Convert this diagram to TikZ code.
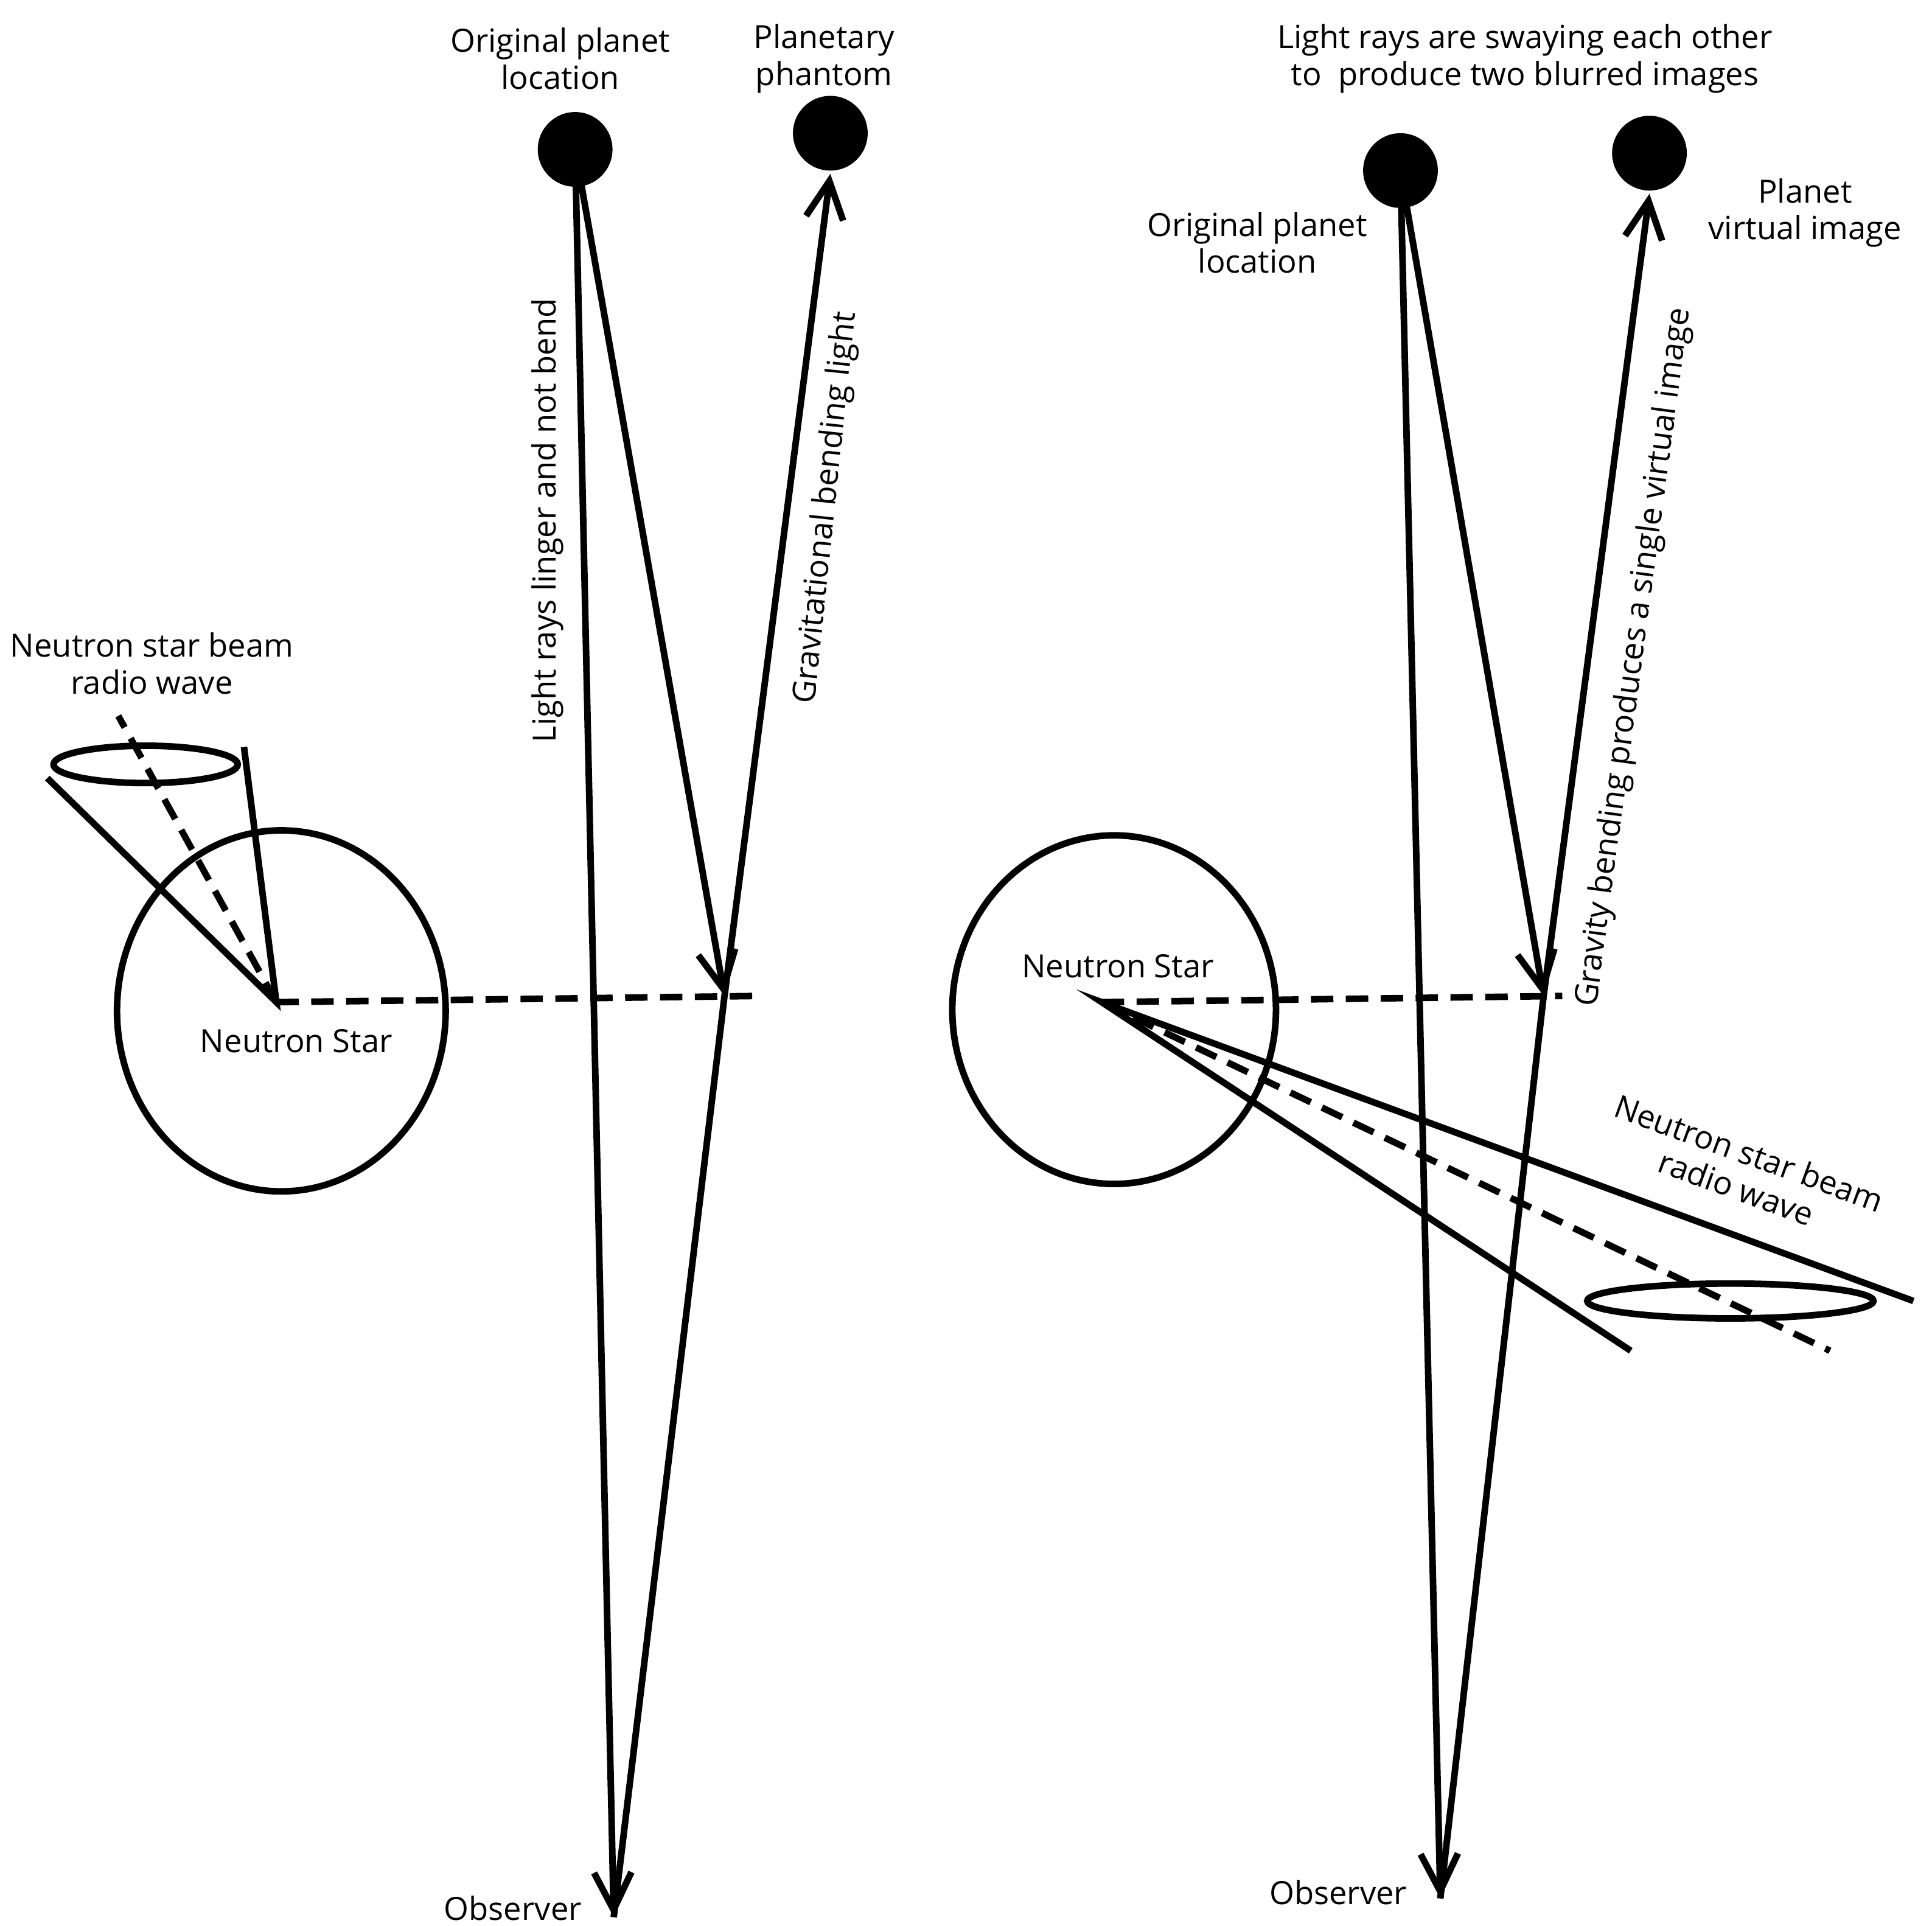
\documentclass[tikz,border=0pt]{standalone}
\usepackage{fontspec}
\setmainfont{Open Sans}
\usetikzlibrary{arrows.meta}
\begin{document}
\begin{tikzpicture}[x=0.01cm,y=-0.01cm,line width=1.5pt,
  lbl/.style={font=\fontsize{7.3}{8.4}\selectfont,align=center,inner sep=1pt},
  planet/.style={circle,fill=black,minimum size=0.6cm,inner sep=0},
  ray/.style={-{Straight Barb[length=0.3cm,width=0.3cm,line width=1.5pt]}},
  dsh/.style={dash pattern=on 0.18cm off 0.1cm}]
\useasboundingbox (0,0) rectangle (1552,1547);
% ---- left
\node[planet] (p1) at (462,120) {};
\node[planet] (ph) at (667,107) {};
\coordinate (o1) at (493,1540);
\coordinate (b1) at (582,800);
\coordinate (ns1) at (222,805);
\coordinate (d1) at (610,800);
\draw[ray] (p1.center) -- (o1);
\draw[ray] (p1.center) -- (b1);
\draw[ray] (b1) -- (ph.south);
\draw (b1) -- (o1);
\draw[dsh] (ns1) -- (d1);
\draw (226,812) ellipse [x radius=132,y radius=145];
\coordinate (c1a) at (38,625);
\coordinate (c1b) at (196,600);
\coordinate (c1c) at (95,575);
\draw (c1a) -- (ns1) -- (c1b);
\draw[dsh] (ns1) -- (c1c);
\draw (117,614) ellipse [x radius=74,y radius=15];
\node[lbl] (l1) at (122,533) {Neutron star beam\\radio wave};
\node[lbl] (l2) at (238,836) {Neutron Star};
\node[lbl] (l3) at (450,47) {Original planet\\location};
\node[lbl] (l4) at (662,47) {Planetary\\phantom};
\node[lbl,rotate=90] (l5) at (440,418) {Light rays linger and not bend};
\node[lbl,rotate=84] (l6) at (664,408) {Gravitational bending light};
\node[lbl] (l7) at (412,1533) {Observer};
% ---- right
\node[planet] (p2) at (1125,137) {};
\node[planet] (pv) at (1325,123) {};
\coordinate (o2) at (1157,1525);
\coordinate (b2) at (1240,800);
\coordinate (ns2) at (885,805);
\coordinate (d2) at (1255,800);
\draw[ray] (p2.center) -- (o2);
\draw[ray] (p2.center) -- (b2);
\draw[ray] (b2) -- (pv.south);
\draw (b2) -- (o2);
\draw[dsh] (ns2) -- (d2);
\draw (895,811) ellipse [x radius=130,y radius=140];
\coordinate (c2a) at (1310,1085);
\coordinate (c2b) at (1537,1045);
\coordinate (c2c) at (1470,1085);
\draw (c2a) -- (ns2) -- (c2b);
\draw[dsh] (ns2) -- (c2c);
\draw (1390,1045) ellipse [x radius=115,y radius=14];
\node[lbl] (r1) at (1225,47) {Light rays are swaying each other\\to~~produce two blurred images};
\node[lbl] (r2) at (1010,195) {Original planet\\location};
\node[lbl] (r3) at (1450,171) {Planet\\virtual image};
\node[lbl,rotate=82.4] (r4) at (1313,528) {Gravity bending produces a single virtual image};
\node[lbl] (r5) at (898,776) {Neutron Star};
\node[lbl,rotate=-20] (r6) at (1400,940) {Neutron star beam\\radio wave};
\node[lbl] (r7) at (1075,1520) {Observer};
\end{tikzpicture}
\end{document}
